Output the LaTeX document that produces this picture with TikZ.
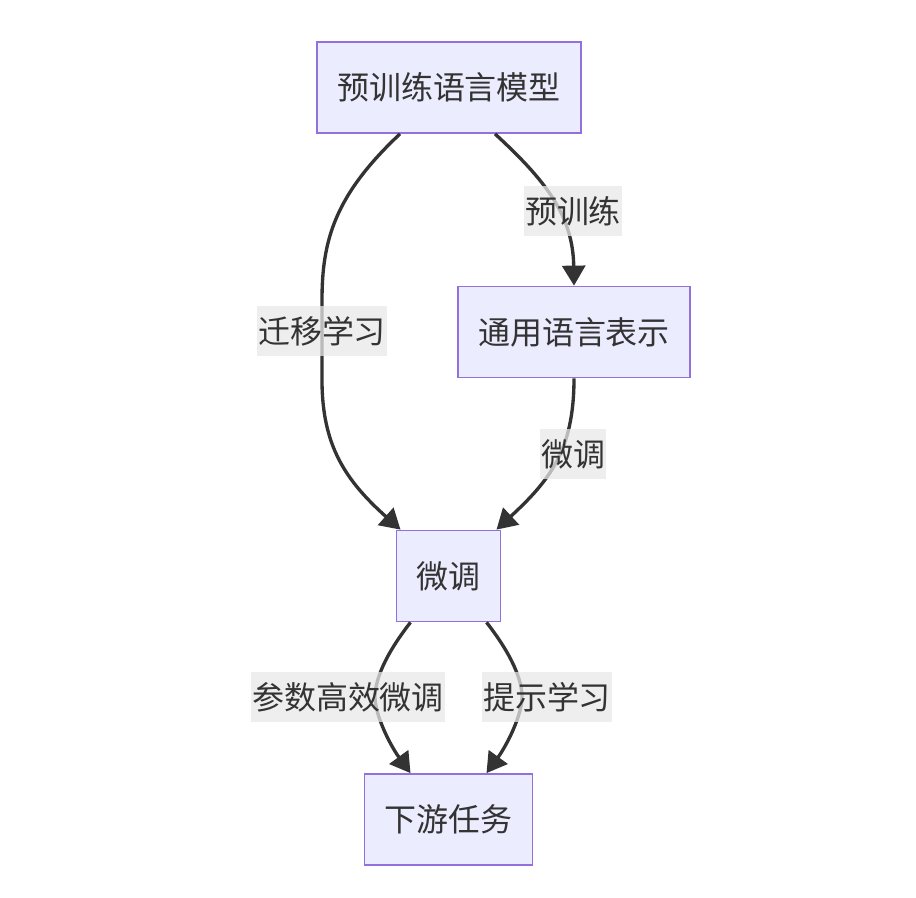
\documentclass[tikz,border=0pt]{standalone}
\usepackage{fontspec}
\setmainfont{Noto Sans CJK SC}
\usepackage{xcolor}
\usetikzlibrary{arrows.meta, calc}
\definecolor{boxfill}{HTML}{ECECFF}
\definecolor{boxline}{HTML}{9370DB}
\definecolor{edgeline}{HTML}{333333}
\definecolor{labelbg}{HTML}{E8E8E8}

\begin{document}
\begin{tikzpicture}[
    x=0.02cm, y=-0.02cm,
    box/.style   = {draw=boxline, fill=boxfill, line width=1pt,
                    minimum height=1.82cm, inner xsep=0.4cm,
                    text=edgeline, font=\fontsize{18.2}{22}\selectfont},
    elabel/.style = {fill=labelbg, fill opacity=0.75, text opacity=1,
                    minimum height=1cm, inner xsep=0.5pt,
                    text=edgeline, font=\fontsize{18.2}{22}\selectfont},
    arr/.style   = {-{Triangle[length=0.4cm, width=0.46cm]},
                    draw=edgeline, line width=1.9pt},
  ]
  \useasboundingbox (0,0) rectangle (916,898);
  % nodes
  \node[box] (plm)  at (449,87.5)  {预训练语言模型};
  \node[box] (rep)  at (574,332)   {通用语言表示};
  \node[box] (ft)   at (448.5,576) {微调};
  \node[box] (task) at (448.5,819.5) {下游任务};
  % edges
  \draw[arr] ($(plm.south)+(-49,0)$) .. controls (335,195) and (322,240) .. (322,300)
             -- (322,380) .. controls (322,445) and (345,480) .. ($(ft.north)+(-48,0)$);
  \draw[arr] ($(plm.south)+(46,0)$) .. controls (545,180) and (573,215) .. (rep.north);
  \draw[arr] (rep.south) .. controls (574,450) and (550,480) .. ($(ft.north)+(48,0)$);
  \draw[arr] ($(ft.south)+(-38,0)$) .. controls (385,655) and (375,680) .. (375,697)
             .. controls (375,715) and (390,745) .. ($(task.north)+(-38,0)$);
  \draw[arr] ($(ft.south)+(38,0)$) .. controls (512,655) and (522,680) .. (522,697)
             .. controls (522,715) and (507,745) .. ($(task.north)+(38,0)$);
  % edge labels
  \node[elabel] (l1) at (573,211) {预训练};
  \node[elabel] (l2) at (322,331) {迁移学习};
  \node[elabel] (l3) at (573,454) {微调};
  \node[elabel] (l4) at (348,697) {参数高效微调};
  \node[elabel] (l5) at (547,697) {提示学习};
\end{tikzpicture}
\end{document}
